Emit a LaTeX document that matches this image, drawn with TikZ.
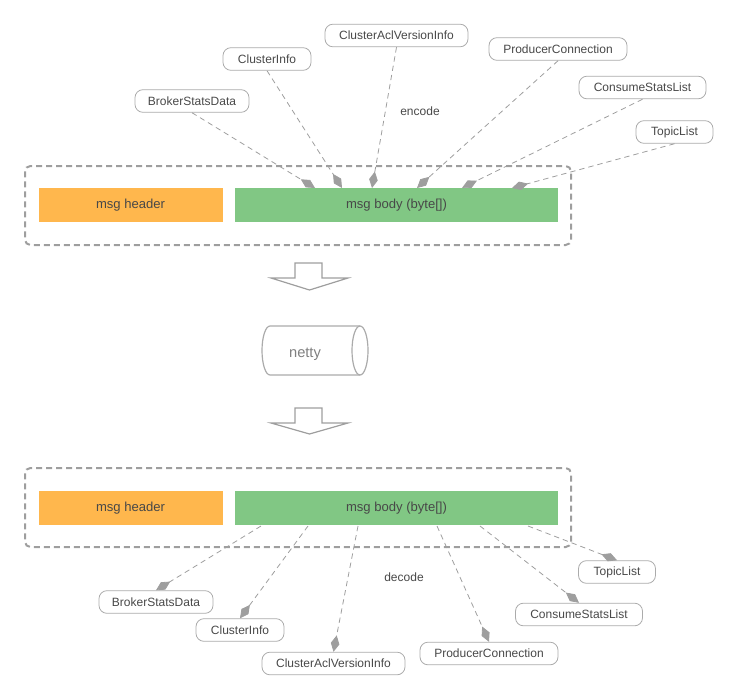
\documentclass[tikz,border=0pt]{standalone}
\usepackage{fontspec}
\setmainfont{Liberation Sans}
\usetikzlibrary{arrows.meta}

\definecolor{hdrorange}{HTML}{FFB74D}
\definecolor{bodygreen}{HTML}{81C784}
\definecolor{linegray}{HTML}{9E9E9E}
\definecolor{boxgray}{HTML}{ABABAB}
\definecolor{txtgray}{HTML}{484848}

\begin{document}
\begin{tikzpicture}[x = 0.75pt, y = -0.75pt,
	msgpart/.style = {minimum height = 26pt, inner sep = 0pt, text = txtgray, font = \fontsize{9.8}{11}\selectfont},
	cls/.style = {draw = boxgray, line width = 0.6pt, rounded corners = 6pt, minimum height = 17pt, inner sep = 0pt, text = txtgray, font = \fontsize{9}{11}\selectfont},
	msgframe/.style = {draw = linegray, line width = 1.5pt, dash pattern = on 4.5pt off 3pt, rounded corners = 4pt},
	link/.style = {draw = linegray, line width = 0.6pt, dash pattern = on 4pt off 3pt},
	tipend/.style = {-{Diamond[length = 12.5pt, width = 6.5pt, fill = linegray]}},
	blockarrow/.style = {draw = linegray, line width = 0.9pt, line join = miter}
	]
	\useasboundingbox (0, 0) rectangle (737, 699);
	
	% encode side
	\draw[msgframe] (25, 166) rectangle (571, 245);
	\node[msgpart, fill = hdrorange, minimum width = 138pt] (hdrA) at (130.5, 205) {msg header};
	\node[msgpart, fill = bodygreen, minimum width = 242.25pt] (bodyA) at (396.5, 205) {msg body (byte[])};
	
	\node[cls, minimum width = 85.5pt] (bsdA) at (192, 101) {BrokerStatsData};
	\node[cls, minimum width = 66pt] (ciA) at (267, 59) {ClusterInfo};
	\node[cls, minimum width = 107.25pt] (cavA) at (396.5, 35.5) {ClusterAclVersionInfo};
	\node[cls, minimum width = 103.5pt] (pcA) at (558, 49) {ProducerConnection};
	\node[cls, minimum width = 95.25pt] (cslA) at (642.5, 87.5) {ConsumeStatsList};
	\node[cls, minimum width = 57.75pt] (tlA) at (674.5, 132) {TopicList};
	\node[text = txtgray, font = \fontsize{9}{11}\selectfont] (enc) at (420, 111) {encode};
	
	\coordinate (inA1) at (315, 188);
	\coordinate (inA2) at (342, 188);
	\coordinate (inA3) at (372, 188);
	\coordinate (inA4) at (417, 188);
	\coordinate (inA5) at (462, 188);
	\coordinate (inA6) at (512, 188);
	
	\draw[link, tipend] (bsdA.south) -- (inA1);
	\draw[link, tipend] (ciA.south) -- (inA2);
	\draw[link, tipend] (cavA.south) -- (inA3);
	\draw[link, tipend] (pcA.south) -- (inA4);
	\draw[link, tipend] (cslA.south) -- (inA5);
	\draw[link, tipend] (tlA.south) -- (inA6);
	
	% transport
	\draw[blockarrow] (295, 263) -- (322, 263) -- (322, 278) -- (348, 278) -- (309.5, 290) -- (271, 278) -- (295, 278) -- cycle;
	
	\draw[blockarrow, draw = boxgray] (270, 326) -- (360, 326) (360, 375) -- (270, 375) arc (90:270:8 and 24.5);
	\draw[blockarrow, draw = boxgray] (360, 350.5) ellipse (8 and 24.5);
	\node[text = gray, font = \fontsize{11}{13}\selectfont] (netty) at (305, 354) {netty};
	
	\draw[blockarrow] (295, 408) -- (322, 408) -- (322, 423) -- (348, 423) -- (309.5, 434) -- (271, 423) -- (295, 423) -- cycle;
	
	% decode side
	\draw[msgframe] (25, 468) rectangle (571, 547);
	\node[msgpart, fill = hdrorange, minimum width = 138pt] (hdrB) at (130.5, 508) {msg header};
	\node[msgpart, fill = bodygreen, minimum width = 242.25pt] (bodyB) at (396.5, 508) {msg body (byte[])};
	
	\node[cls, minimum width = 85.5pt] (bsdB) at (156, 602) {BrokerStatsData};
	\node[cls, minimum width = 66pt] (ciB) at (240, 630) {ClusterInfo};
	\node[cls, minimum width = 107.25pt] (cavB) at (333.5, 663.5) {ClusterAclVersionInfo};
	\node[cls, minimum width = 103.5pt] (pcB) at (489, 653.5) {ProducerConnection};
	\node[cls, minimum width = 95.25pt] (cslB) at (579, 614.5) {ConsumeStatsList};
	\node[cls, minimum width = 57.75pt] (tlB) at (617, 572) {TopicList};
	\node[text = txtgray, font = \fontsize{9}{11}\selectfont] (dec) at (404, 577) {decode};
	
	\coordinate (outB1) at (261, 526);
	\coordinate (outB2) at (308, 526);
	\coordinate (outB3) at (358, 526);
	\coordinate (outB4) at (437, 526);
	\coordinate (outB5) at (480, 526);
	\coordinate (outB6) at (528, 526);
	
	\draw[link, tipend] (outB1) -- (bsdB.north);
	\draw[link, tipend] (outB2) -- (ciB.north);
	\draw[link, tipend] (outB3) -- (cavB.north);
	\draw[link, tipend] (outB4) -- (pcB.north);
	\draw[link, tipend] (outB5) -- (cslB.north);
	\draw[link, tipend] (outB6) -- (tlB.north);
\end{tikzpicture}
\end{document}
